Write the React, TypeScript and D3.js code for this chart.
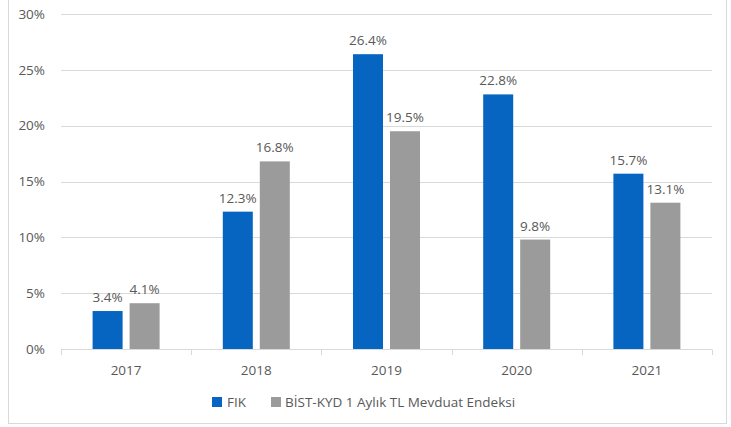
import React from "react";
import * as d3 from "d3";

const categories = ["2017", "2018", "2019", "2020", "2021"];
const fikValues = [3.4, 12.3, 26.4, 22.8, 15.7];
const bistValues = [4.1, 16.8, 19.5, 9.8, 13.1];
const seriesNames = ["FIK", "BİST-KYD 1 Aylık TL Mevduat Endeksi"];
const yTicks = [0, 5, 10, 15, 20, 25, 30];

const W = 731;
const H = 427;
const FONT = "'Open Sans', 'Liberation Sans', sans-serif";
const TEXT = "#595959";
const GRID = "#d9d9d9";
const BLUE = "#0565c0";
const GRAY = "#9b9b9b";

export default function App() {
  const x = d3.scaleBand<string>().domain(categories).range([61, 712]);
  const y = d3.scaleLinear().domain([0, 30]).range([349, 14]);
  const barW = 30;
  const off = 18.5;
  const series = [
    { name: seriesNames[0], values: fikValues, color: BLUE, dx: -off },
    { name: seriesNames[1], values: bistValues, color: GRAY, dx: off },
  ];
  const fmt = (v: number) => v.toFixed(1) + "%";
  return (
    <svg width={W} height={H} style={{ position: "absolute", left: 0, top: 0 }} fontFamily={FONT}>
      <rect x={0} y={0} width={W} height={H} fill="#fff" />
      <rect x={8.5} y={-2} width={718} height={425.5} fill="none" stroke={GRID} strokeWidth={1} />
      {yTicks.map((t) => (
        <g key={t}>
          <line x1={61} x2={712} y1={Math.round(y(t)) + 0.5} y2={Math.round(y(t)) + 0.5} stroke={GRID} strokeWidth={1} />
          <text x={45} y={y(t)} dy="0.35em" textAnchor="end" fontSize={13.5} fill={TEXT}>
            {t}%
          </text>
        </g>
      ))}
      {categories.concat(["__end"]).map((c, i) => {
        const xx = Math.round(61 + i * x.bandwidth()) + 0.5;
        return <line key={c} x1={xx} x2={xx} y1={349.5} y2={355} stroke={GRID} />;
      })}
      {categories.map((c) => (
        <text key={c} x={(x(c) as number) + x.bandwidth() / 2} y={375} textAnchor="middle" fontSize={13.5} fill={TEXT}>
          {c}
        </text>
      ))}
      {series.map((s) =>
        s.values.map((v, i) => {
          const cx = (x(categories[i]) as number) + x.bandwidth() / 2 + s.dx;
          return (
            <g key={s.name + i}>
              <rect x={cx - barW / 2} y={y(v)} width={barW} height={y(0) - y(v)} fill={s.color} />
              <text x={cx} y={y(v) - 9} textAnchor="middle" fontSize={13.5} fill={TEXT}>
                {fmt(v)}
              </text>
            </g>
          );
        })
      )}
      <g>
        <rect x={212} y={397} width={10} height={10} fill={BLUE} />
        <text x={227} y={407} fontSize={13.5} fill={TEXT}>{seriesNames[0]}</text>
        <rect x={271} y={397} width={10} height={10} fill={GRAY} />
        <text x={285} y={407} fontSize={13.5} fill={TEXT}>{seriesNames[1]}</text>
      </g>
    </svg>
  );
}
